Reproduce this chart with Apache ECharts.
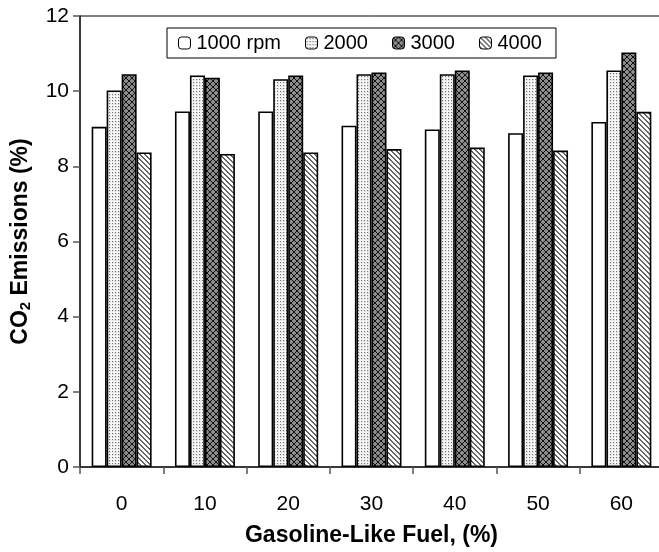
<!DOCTYPE html>
<html>
<head>
<meta charset="utf-8">
<script src="https://cdn.jsdelivr.net/npm/echarts@6/dist/echarts.min.js"></script>
<style>html,body{margin:0;padding:0;background:#fff;overflow:hidden;width:659px;height:552px}#c{width:663px;height:552px}</style>
</head>
<body>
<div id="c"></div>
<script>
var categories = ['0', '10', '20', '30', '40', '50', '60'];
var seriesNames = ['1000 rpm', '2000', '3000', '4000'];
var rpm1000 = [9.05, 9.46, 9.46, 9.08, 8.98, 8.88, 9.18];
var rpm2000 = [10.02, 10.42, 10.32, 10.45, 10.45, 10.42, 10.55];
var rpm3000 = [10.45, 10.36, 10.42, 10.50, 10.55, 10.50, 11.03];
var rpm4000 = [8.37, 8.33, 8.37, 8.46, 8.50, 8.42, 9.45];
var yTicks = [0, 2, 4, 6, 8, 10, 12];

function makePattern(kind) {
  var c = document.createElement('canvas');
  var ctx = c.getContext('2d');
  if (kind === 'dots') {
    c.width = 3; c.height = 3;
    ctx.fillStyle = '#e2e2e2'; ctx.fillRect(0, 0, 3, 3);
    ctx.fillStyle = '#f8f8f8'; ctx.fillRect(0, 0, 1, 3); ctx.fillRect(0, 0, 3, 1);
    ctx.fillStyle = '#6e6e6e';
    ctx.fillRect(1, 1, 1, 1);
  } else if (kind === 'cross') {
    c.width = 6; c.height = 6;
    ctx.fillStyle = '#8c8c8c'; ctx.fillRect(0, 0, 6, 6);
    ctx.fillStyle = '#111';
    for (var i = 0; i < 6; i++) {
      ctx.fillRect(i, i, 1, 1);
      ctx.fillRect(5 - i, i, 1, 1);
    }
    ctx.fillRect(2, 2, 2, 2);
    ctx.fillRect(0, 0, 1, 1);
  } else if (kind === 'diag') {
    c.width = 5; c.height = 5;
    ctx.fillStyle = '#ffffff'; ctx.fillRect(0, 0, 5, 5);
    ctx.fillStyle = '#666666';
    for (var j = 0; j < 5; j++) {
      ctx.fillRect(j, j, 1, 1);
      ctx.fillRect((j + 1) % 5, j, 1, 1);
    }
  }
  return { image: c, repeat: 'repeat' };
}

var fills = ['#ffffff', makePattern('dots'), makePattern('cross'), makePattern('diag')];
var dataArr = [rpm1000, rpm2000, rpm3000, rpm4000];

var chart = echarts.init(document.getElementById('c'), null, { renderer: 'canvas' });
var font = 'Liberation Sans, Arial, sans-serif';

var series = seriesNames.map(function (n, i) {
  return {
    name: n,
    type: 'bar',
    data: dataArr[i],
    barGap: '0%',
    barCategoryGap: '28%',
    itemStyle: { color: fills[i], borderColor: '#000', borderWidth: 1.6 },
    emphasis: { disabled: true },
    animation: false
  };
});

chart.setOption({
  animation: false,
  backgroundColor: '#fff',
  legend: {
    left: 167, top: 28,
    padding: [5, 14, 5, 11],
    borderColor: '#000', borderWidth: 1,
    itemWidth: 12, itemHeight: 12, itemGap: 24,
    textStyle: { fontFamily: font, fontSize: 20, color: '#000', padding: [0, 0, 0, 1] },
    data: seriesNames.map(function (n) { return { name: n, itemStyle: { borderColor: '#000', borderWidth: 1 } }; })
  },
  grid: { left: 80, top: 16, right: 0, bottom: 84, show: true, borderColor: '#000', borderWidth: 1, backgroundColor: 'transparent' },
  xAxis: {
    type: 'category',
    data: categories,
    name: 'Gasoline-Like Fuel, (%)',
    nameLocation: 'middle',
    nameGap: 57,
    nameTextStyle: { fontFamily: font, fontSize: 23, fontWeight: 'bold', color: '#000', padding: [0, 0, 0, 0] },
    axisLine: { lineStyle: { color: '#222', width: 1.5 } },
    axisTick: { show: true, length: 7, lineStyle: { color: '#555', width: 1.5 }, alignWithLabel: false },
    axisLabel: { fontFamily: font, fontSize: 21, color: '#000', margin: 27 }
  },
  yAxis: {
    type: 'value',
    min: 0, max: 12, interval: 2,
    name: '{a|CO}{s|2}{a| Emissions (%)}',
    nameLocation: 'middle',
    nameGap: 47,
    nameRotate: 90,
    nameTextStyle: {
      rich: {
        a: { fontFamily: font, fontSize: 23, fontWeight: 'bold', color: '#000' },
        s: { fontFamily: font, fontSize: 15, fontWeight: 'bold', color: '#000', verticalAlign: 'bottom', padding: [10, 0, 0, 0] }
      }
    },
    axisLine: { show: true, lineStyle: { color: '#222', width: 1.5 } },
    axisTick: { show: true, length: 7, lineStyle: { color: '#555', width: 1.5 } },
    axisLabel: {
      fontFamily: font, fontSize: 21, color: '#000', margin: 11,
      formatter: function (v) { return yTicks.indexOf(v) >= 0 ? String(v) : ''; }
    },
    splitLine: { show: false }
  },
  series: series
});
</script>
</body>
</html>
